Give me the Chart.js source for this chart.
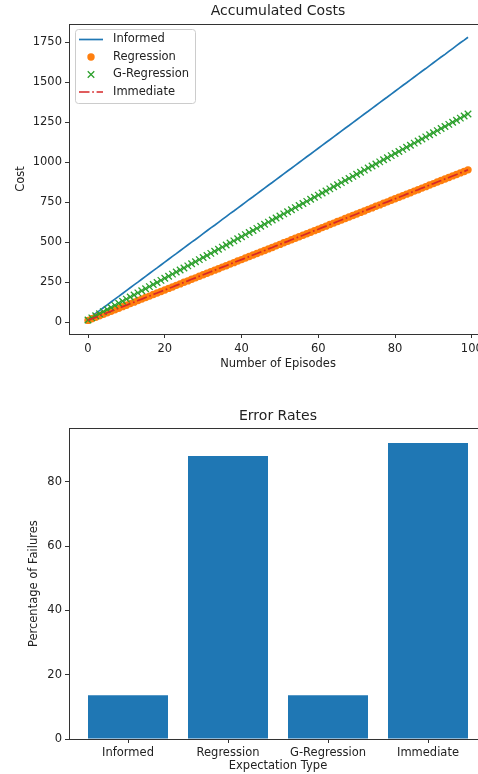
<!DOCTYPE html>
<html>
<head>
<meta charset="utf-8">
<script src="https://cdn.jsdelivr.net/npm/chart.js"></script>
<style>
  html, body { margin: 0; padding: 0; background: #fff; overflow: hidden; }
  canvas { display: block; }
</style>
</head>
<body>
<canvas id="costs" width="500" height="387"></canvas>
<canvas id="errors" width="500" height="387"></canvas>
<script>
// Accumulated costs per episode
var episodes = [0, 1, 2, 3, 4, 5, 6, 7, 8, 9, 10, 11, 12, 13, 14, 15, 16, 17, 18, 19,
    20, 21, 22, 23, 24, 25, 26, 27, 28, 29, 30, 31, 32, 33, 34, 35, 36, 37, 38, 39,
    40, 41, 42, 43, 44, 45, 46, 47, 48, 49, 50, 51, 52, 53, 54, 55, 56, 57, 58, 59,
    60, 61, 62, 63, 64, 65, 66, 67, 68, 69, 70, 71, 72, 73, 74, 75, 76, 77, 78, 79,
    80, 81, 82, 83, 84, 85, 86, 87, 88, 89, 90, 91, 92, 93, 94, 95, 96, 97, 98, 99];
var informedCost = [18, 36, 54, 71, 89, 107, 125, 143, 160, 178, 196, 214, 232, 249, 267, 285, 303, 321, 338, 356,
    374, 392, 410, 427, 445, 463, 481, 499, 516, 534, 552, 570, 588, 605, 623, 641, 659, 677, 694, 712,
    730, 748, 766, 783, 801, 819, 837, 855, 872, 890, 908, 926, 944, 961, 979, 997, 1015, 1033, 1050, 1068,
    1086, 1104, 1122, 1139, 1157, 1175, 1193, 1211, 1228, 1246, 1264, 1282, 1300, 1317, 1335, 1353, 1371, 1389, 1406, 1424,
    1442, 1460, 1478, 1495, 1513, 1531, 1549, 1567, 1584, 1602, 1620, 1638, 1656, 1673, 1691, 1709, 1727, 1745, 1762, 1780];
var regressionCost = [10, 20, 29, 39, 48, 58, 67, 77, 86, 96, 105, 115, 124, 134, 143, 153, 162, 172, 181, 191,
    200, 210, 219, 229, 238, 248, 257, 267, 276, 286, 295, 305, 314, 324, 333, 343, 352, 362, 371, 381,
    390, 400, 409, 419, 428, 438, 447, 457, 466, 476, 485, 495, 504, 514, 523, 533, 542, 552, 561, 571,
    580, 590, 599, 609, 618, 628, 637, 647, 656, 666, 675, 685, 694, 704, 713, 723, 732, 742, 751, 761,
    770, 780, 789, 799, 808, 818, 827, 837, 846, 856, 865, 875, 884, 894, 903, 913, 922, 932, 941, 951];
var gRegressionCost = [13, 26, 39, 52, 65, 78, 91, 104, 117, 130, 143, 156, 169, 182, 195, 208, 221, 234, 247, 260,
    273, 286, 299, 312, 325, 338, 351, 364, 377, 390, 403, 416, 429, 442, 455, 468, 481, 494, 507, 520,
    533, 546, 559, 572, 585, 598, 611, 624, 637, 650, 663, 676, 689, 702, 715, 728, 741, 754, 767, 780,
    793, 806, 819, 832, 845, 858, 871, 884, 897, 910, 923, 936, 949, 962, 975, 988, 1001, 1014, 1027, 1040,
    1053, 1066, 1079, 1092, 1105, 1118, 1131, 1144, 1157, 1170, 1183, 1196, 1209, 1222, 1235, 1248, 1261, 1274, 1287, 1300];
var immediateCost = [10, 20, 29, 39, 48, 58, 67, 77, 86, 96, 105, 115, 124, 134, 143, 153, 162, 172, 181, 191,
    200, 210, 219, 229, 238, 248, 257, 267, 276, 286, 295, 305, 314, 324, 333, 343, 352, 362, 371, 381,
    390, 400, 409, 419, 428, 438, 447, 457, 466, 476, 485, 495, 504, 514, 523, 533, 542, 552, 561, 571,
    580, 590, 599, 609, 618, 628, 637, 647, 656, 666, 675, 685, 694, 704, 713, 723, 732, 742, 751, 761,
    770, 780, 789, 799, 808, 818, 827, 837, 846, 856, 865, 875, 884, 894, 903, 913, 922, 932, 941, 951];
var episodeTicks = [0, 20, 40, 60, 80, 100];
var costTicks = [0, 250, 500, 750, 1000, 1250, 1500, 1750];

// Error rates
var expectationTypes = ["Informed", "Regression", "G-Regression", "Immediate"];
var failureRates = [13.6, 88, 13.6, 92];
var failureTicks = [0, 20, 40, 60, 80];

Chart.defaults.font.family = "'DejaVu Sans', sans-serif";
Chart.defaults.font.size = 11.5;
Chart.defaults.color = "#222";

function xy(xs, ys) {
    return xs.map(function (x, i) { return { x: x, y: ys[i] }; });
}

function plain(v) { return String(v); }

// top + right spines (right one falls outside the window like in the original)
var frame = {
    id: "frame",
    afterDraw: function (chart) {
        var a = chart.chartArea, ctx = chart.ctx;
        ctx.save();
        ctx.strokeStyle = "#333";
        ctx.lineWidth = 1;
        ctx.beginPath();
        ctx.moveTo(Math.round(a.left), Math.round(a.top) + 0.5);
        ctx.lineTo(Math.round(a.right), Math.round(a.top) + 0.5);
        ctx.lineTo(Math.round(a.right) + 0.5, Math.round(a.bottom));
        ctx.stroke();
        ctx.restore();
    }
};

// matplotlib style legend box in the upper left corner
var legendBox = {
    id: "legendBox",
    afterDatasetsDraw: function (chart, args, opts) {
        if (!opts.show) return;
        var ctx = chart.ctx, a = chart.chartArea;
        var x0 = Math.round(a.left) + 6, y0 = Math.round(a.top) + 5;
        ctx.save();
        ctx.fillStyle = "rgba(255,255,255,0.8)";
        ctx.strokeStyle = "#cccccc";
        ctx.lineWidth = 1;
        ctx.beginPath();
        ctx.roundRect(x0 + 0.5, y0 + 0.5, 120, 74, 3);
        ctx.fill();
        ctx.stroke();
        chart.data.datasets.forEach(function (ds, i) {
            var y = y0 + 10.5 + i * 17.5;
            var cx = x0 + 16;
            if (ds.showLine !== false) {
                ctx.strokeStyle = ds.borderColor;
                ctx.lineWidth = ds.borderWidth;
                ctx.setLineDash(ds.borderDash || []);
                ctx.beginPath();
                ctx.moveTo(x0 + 4, y);
                ctx.lineTo(x0 + 28, y);
                ctx.stroke();
                ctx.setLineDash([]);
            }
            if (ds.pointStyle === "circle" && ds.pointRadius > 0) {
                ctx.fillStyle = ds.pointBackgroundColor;
                ctx.beginPath();
                ctx.arc(cx, y, ds.pointRadius, 0, Math.PI * 2);
                ctx.fill();
            } else if (ds.pointStyle === "crossRot" && ds.pointRadius > 0) {
                var r = ds.pointRadius * 0.7071;
                ctx.strokeStyle = ds.pointBorderColor;
                ctx.lineWidth = ds.pointBorderWidth;
                ctx.beginPath();
                ctx.moveTo(cx - r, y - r); ctx.lineTo(cx + r, y + r);
                ctx.moveTo(cx - r, y + r); ctx.lineTo(cx + r, y - r);
                ctx.stroke();
            }
            ctx.fillStyle = "#222";
            ctx.font = "11.5px 'DejaVu Sans'";
            ctx.textBaseline = "middle";
            ctx.fillText(ds.label, x0 + 38, y);
        });
        ctx.restore();
    }
};

var axisGrid = { drawOnChartArea: false, drawTicks: true, tickLength: 4, color: "#333", lineWidth: 1 };
var axisBorder = { display: true, color: "#333", width: 1 };

new Chart("costs", {
    type: "line",
    data: {
        datasets: [{
            label: "Informed",
            data: xy(episodes, informedCost),
            borderColor: "#1f77b4",
            borderWidth: 1.7,
            pointRadius: 0,
            order: 3
        }, {
            label: "Regression",
            data: xy(episodes, regressionCost),
            showLine: false,
            pointStyle: "circle",
            pointRadius: 3.7,
            pointBackgroundColor: "#ff7f0e",
            pointBorderColor: "#ff7f0e",
            pointBorderWidth: 0,
            borderColor: "#ff7f0e",
            order: 2
        }, {
            label: "G-Regression",
            data: xy(episodes, gRegressionCost),
            showLine: false,
            pointStyle: "crossRot",
            pointRadius: 4.6,
            pointBorderColor: "#2ca02c",
            pointBackgroundColor: "#2ca02c",
            pointBorderWidth: 1.3,
            borderColor: "#2ca02c",
            order: 1
        }, {
            label: "Immediate",
            data: xy(episodes, immediateCost),
            borderColor: "#d62728",
            borderWidth: 1.7,
            borderDash: [10.5, 2.7, 1.7, 2.7],
            pointRadius: 0,
            order: 0
        }]
    },
    options: {
        responsive: false,
        animation: false,
        layout: { padding: { left: 0, right: 13, top: 0, bottom: 0 } },
        plugins: {
            legend: { display: false },
            tooltip: { enabled: false },
            legendBox: { show: true },
            title: {
                display: true,
                fullSize: false,
                text: "Accumulated Costs",
                color: "#222",
                font: { size: 14, weight: "normal" },
                padding: { top: 2.9, bottom: 4.3 }
            }
        },
        scales: {
            x: {
                type: "linear",
                min: -4.95,
                max: 103.95,
                grid: axisGrid,
                border: axisBorder,
                ticks: { padding: 4.5, maxRotation: 0, callback: plain },
                afterBuildTicks: function (s) { s.ticks = episodeTicks.map(function (v) { return { value: v }; }); },
                afterFit: function (s) { s.height = 53; },
                title: { display: true, text: "Number of Episodes", padding: { top: 0, bottom: 16.1 } }
            },
            y: {
                type: "linear",
                min: -75,
                max: 1862.5,
                grid: axisGrid,
                border: axisBorder,
                ticks: { padding: 3, callback: plain },
                afterBuildTicks: function (s) { s.ticks = costTicks.map(function (v) { return { value: v }; }); },
                afterFit: function (s) { s.width = 69; },
                title: { display: true, text: "Cost", padding: { top: 14.1, bottom: 0 } }
            }
        }
    },
    plugins: [frame, legendBox]
});

new Chart("errors", {
    type: "bar",
    data: {
        datasets: [{
            label: "Error Rates",
            data: xy(expectationTypes.map(function (c, i) { return i; }), failureRates),
            backgroundColor: "#1f77b4",
            borderWidth: 0,
            barPercentage: 0.8,
            categoryPercentage: 1.0
        }]
    },
    options: {
        responsive: false,
        animation: false,
        layout: { padding: { left: 0, right: 13, top: 0, bottom: 0 } },
        plugins: {
            legend: { display: false },
            tooltip: { enabled: false },
            title: {
                display: true,
                fullSize: false,
                text: "Error Rates",
                color: "#222",
                font: { size: 14, weight: "normal" },
                padding: { top: 20.6, bottom: 3.9 }
            }
        },
        scales: {
            x: {
                type: "linear",
                offset: false,
                min: -0.59,
                max: 3.59,
                grid: Object.assign({}, axisGrid, { offset: false }),
                border: axisBorder,
                ticks: {
                    padding: 3,
                    maxRotation: 0,
                    callback: function (v) { return expectationTypes[v]; }
                },
                afterBuildTicks: function (s) { s.ticks = expectationTypes.map(function (c, i) { return { value: i }; }); },
                afterFit: function (s) { s.height = 35; },
                title: { display: true, text: "Expectation Type", padding: { top: 0, bottom: 1.1 } }
            },
            y: {
                type: "linear",
                min: 0,
                max: 96.6,
                grid: axisGrid,
                border: axisBorder,
                ticks: { padding: 3, callback: plain },
                afterBuildTicks: function (s) { s.ticks = failureTicks.map(function (v) { return { value: v }; }); },
                afterFit: function (s) { s.width = 69; },
                title: { display: true, text: "Percentage of Failures", padding: { top: 27.1, bottom: 0 } }
            }
        }
    },
    plugins: [frame]
});
</script>
</body>
</html>
